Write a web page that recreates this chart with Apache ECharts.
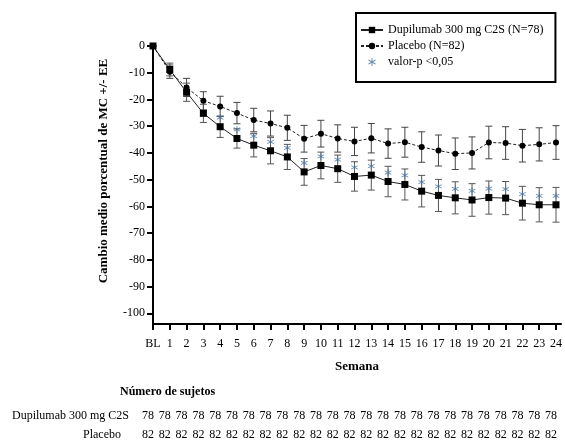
<!DOCTYPE html>
<html>
<head>
<meta charset="utf-8">
<script src="https://cdn.jsdelivr.net/npm/echarts@6/dist/echarts.min.js"></script>
<style>
  html, body { margin: 0; padding: 0; background: #fff; }
  #chart { width: 565px; height: 441px; }
</style>
</head>
<body>
<div id="chart"></div>
<script>
// semanas (BL = 0)
const weeks = [0, 1, 2, 3, 4, 5, 6, 7, 8, 9, 10, 11, 12, 13, 14, 15, 16, 17, 18, 19, 20, 21, 22, 23, 24]
const weekLabels = ['BL', '1', '2', '3', '4', '5', '6', '7', '8', '9', '10', '11', '12',
  '13', '14', '15', '16', '17', '18', '19', '20', '21', '22', '23', '24']

// cambio medio porcentual de MC
const dupMean = [0, -8.8, -17.3, -25.2, -30.2, -34.6, -37.1, -39.2, -41.5, -47.1, -44.7, -45.9, -48.8,
  -48.3, -50.7, -51.8, -54.3, -55.9, -56.8, -57.6, -56.7, -56.9, -58.8, -59.4, -59.4]
const pboMean = [0, -9.6, -15.5, -20.5, -22.6, -25.1, -27.7, -29.0, -30.6, -34.7, -32.8, -34.6, -35.7,
  -34.5, -36.5, -36.0, -37.8, -39.1, -40.3, -40.0, -36.1, -36.3, -37.3, -36.8, -36.1]

// error estandar (EE)
const dupSE = [0, 2.4, 3.4, 3.4, 4.0, 3.6, 4.4, 4.9, 4.7, 5.0, 5.0, 5.1, 5.5,
  5.6, 5.7, 5.8, 5.9, 6.0, 6.0, 6.1, 6.2, 6.2, 6.3, 6.4, 6.5]
const pboSE = [0, 2.5, 3.4, 3.4, 3.8, 4.0, 4.4, 4.7, 4.7, 5.0, 5.0, 5.1, 5.3,
  5.5, 5.5, 5.6, 5.7, 5.8, 5.9, 6.0, 6.1, 6.1, 6.1, 6.2, 6.3]

// semanas con valor-p < 0,05
const sigWeeks = [4, 5, 6, 7, 8, 9, 10, 11, 12, 13, 14, 15, 16, 17, 18, 19, 20, 21, 22, 23, 24]

// numero de sujetos
const nDup = [78, 78, 78, 78, 78, 78, 78, 78, 78, 78, 78, 78, 78, 78, 78, 78, 78, 78, 78, 78, 78, 78, 78, 78, 78]
const nPbo = [82, 82, 82, 82, 82, 82, 82, 82, 82, 82, 82, 82, 82, 82, 82, 82, 82, 82, 82, 82, 82, 82, 82, 82, 82]

const yTicks = [0, -10, -20, -30, -40, -50, -60, -70, -80, -90, -100]

const FONT = 'Liberation Serif'
const DUP = 'Dupilumab 300 mg C2S (N=78)'
const PBO = 'Placebo (N=82)'
const SIG = 'valor-p <0,05'

const asterisk = 'path://M4.4,0 L5.6,0 L5.6,10 L4.4,10 Z ' +
  'M0.97,1.98 L9.63,6.98 L9.03,8.02 L0.37,3.02 Z ' +
  'M0.37,6.98 L9.03,1.98 L9.63,3.02 L0.97,8.02 Z'

function errData (mean, se) {
  return weeks.map((w, i) => [w, mean[i] - se[i], mean[i] + se[i]])
}

function errBar (color) {
  return function (params, api) {
    const x = api.value(0)
    const lo = api.coord([x, api.value(1)])
    const hi = api.coord([x, api.value(2)])
    const w = 3.5
    const st = { stroke: color, lineWidth: 1 }
    return {
      type: 'group',
      children: [
        { type: 'line', shape: { x1: lo[0], y1: lo[1], x2: hi[0], y2: hi[1] }, style: st },
        { type: 'line', shape: { x1: lo[0] - w, y1: lo[1], x2: lo[0] + w, y2: lo[1] }, style: st },
        { type: 'line', shape: { x1: hi[0] - w, y1: hi[1], x2: hi[0] + w, y2: hi[1] }, style: st }
      ]
    }
  }
}

function countAxis (counts, name, offset, gap) {
  return {
    type: 'value',
    gridIndex: 0,
    position: 'bottom',
    offset: offset,
    min: 0,
    max: 24.3,
    name: name,
    nameLocation: 'start',
    nameGap: gap,
    nameTextStyle: { fontFamily: FONT, fontSize: 12, color: '#000', verticalAlign: 'top' },
    axisLine: { show: false, onZero: false },
    axisTick: { show: false },
    splitLine: { show: false },
    axisLabel: {
      customValues: weeks,
      margin: 0,
      padding: [0, 10, 0, 0],
      fontFamily: FONT,
      fontSize: 12,
      color: '#000',
      formatter: v => String(counts[v])
    }
  }
}

const chart = echarts.init(document.getElementById('chart'))
chart.setOption({
  animation: false,
  backgroundColor: '#fff',
  grid: { left: 153, top: 46, width: 410.7, height: 279 },
  legend: {
    orient: 'vertical',
    left: 356,
    top: 13,
    borderColor: '#000',
    borderWidth: 2,
    padding: [11, 12, 14, 4],
    itemGap: 4,
    itemWidth: 22,
    itemHeight: 8,
    textStyle: { fontFamily: FONT, fontSize: 12, color: '#000' },
    data: [DUP, PBO, SIG]
  },
  graphic: [
    {
      type: 'text',
      left: 120,
      top: 386,
      style: { text: 'Número de sujetos', font: 'bold 12px ' + FONT, fill: '#000' }
    },
    {
      type: 'text',
      x: 104,
      y: 171,
      rotation: Math.PI / 2,
      style: {
        text: 'Cambio medio porcentual de MC +/- EE',
        font: 'bold 13px ' + FONT,
        fill: '#000',
        align: 'center',
        verticalAlign: 'middle'
      }
    }
  ],
  xAxis: [
    {
      type: 'value',
      min: 0,
      max: 24.3,
      name: 'Semana',
      nameLocation: 'middle',
      nameGap: 36,
      nameTextStyle: { fontFamily: FONT, fontSize: 13, fontWeight: 'bold', color: '#000' },
      axisLine: { onZero: false, lineStyle: { color: '#000', width: 2 } },
      axisTick: { customValues: weeks, length: 6, lineStyle: { color: '#000', width: 2 } },
      splitLine: { show: false },
      axisLabel: {
        customValues: weeks,
        margin: 14,
        fontFamily: FONT,
        fontSize: 12,
        color: '#000',
        formatter: v => weekLabels[v]
      }
    },
    countAxis(nDup, 'Dupilumab 300 mg C2S', 86, 24),
    countAxis(nPbo, 'Placebo', 105, 32)
  ],
  yAxis: {
    type: 'value',
    min: -104,
    max: 0,
    axisLine: { show: true, onZero: false, lineStyle: { color: '#000', width: 2 } },
    axisTick: { show: true, customValues: yTicks, length: 6, lineStyle: { color: '#000', width: 2 } },
    splitLine: { show: false },
    axisLabel: {
      customValues: yTicks,
      margin: 8,
      fontFamily: FONT,
      fontSize: 12,
      color: '#000'
    }
  },
  series: [
    {
      type: 'custom',
      name: 'pboErr',
      renderItem: errBar('#444'),
      data: errData(pboMean, pboSE),
      z: 1,
      silent: true
    },
    {
      type: 'custom',
      name: 'dupErr',
      renderItem: errBar('#555'),
      data: errData(dupMean, dupSE),
      z: 1,
      silent: true
    },
    {
      name: PBO,
      type: 'line',
      data: weeks.map((w, i) => [w, pboMean[i]]),
      symbol: 'circle',
      symbolSize: 6,
      clip: false,
      lineStyle: { color: '#222', width: 1, type: [3, 2] },
      itemStyle: { color: '#000' },
      z: 3
    },
    {
      name: DUP,
      type: 'line',
      data: weeks.map((w, i) => [w, dupMean[i]]),
      symbol: 'rect',
      symbolSize: 7,
      clip: false,
      lineStyle: { color: '#222', width: 1 },
      itemStyle: { color: '#000' },
      z: 4
    },
    {
      name: SIG,
      type: 'scatter',
      data: sigWeeks.map(w => [w, dupMean[w]]),
      symbol: asterisk,
      symbolSize: 7,
      symbolOffset: [0, -9],
      itemStyle: { color: '#46709f' },
      z: 5
    }
  ]
})
</script>
</body>
</html>
